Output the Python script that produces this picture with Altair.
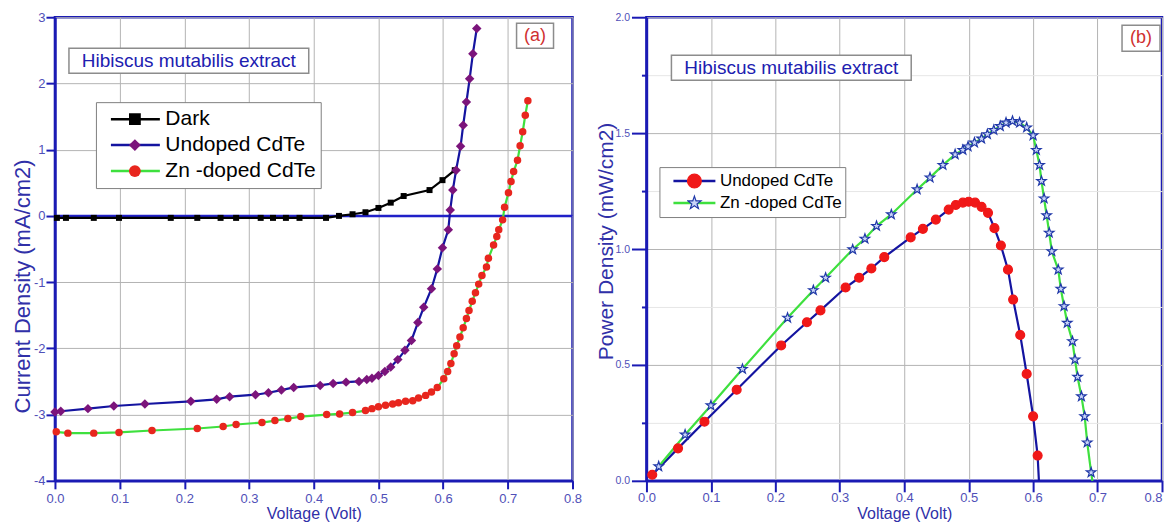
import altair as alt
import pandas as pd

# ---------------- panel (a): J-V curves ----------------
dark_v = [0.003, 0.017, 0.06, 0.099, 0.179, 0.22, 0.256, 0.28, 0.318, 0.337, 0.357,
          0.378, 0.419, 0.439, 0.46, 0.48, 0.50, 0.519, 0.539, 0.579, 0.599, 0.618]
dark_j = [-0.03, -0.03, -0.03, -0.03, -0.03, -0.03, -0.03, -0.03, -0.03, -0.03, -0.03,
          -0.03, -0.03, 0.0, 0.025, 0.055, 0.12, 0.20, 0.30, 0.39, 0.54, 0.69]

und_v = [0.0, 0.009, 0.051, 0.091, 0.139, 0.21, 0.25, 0.27, 0.31, 0.33,
         0.35, 0.369, 0.41, 0.43, 0.45, 0.47, 0.482, 0.49, 0.50, 0.51,
         0.519, 0.53, 0.541, 0.551, 0.561, 0.57, 0.582, 0.591, 0.599, 0.608,
         0.611, 0.615, 0.62, 0.627, 0.631, 0.636, 0.641, 0.646, 0.652]
und_j = [-2.96, -2.95, -2.91, -2.87, -2.84, -2.80, -2.77, -2.73, -2.70, -2.67,
         -2.63, -2.59, -2.56, -2.53, -2.51, -2.50, -2.47, -2.45, -2.41, -2.35,
         -2.28, -2.17, -2.03, -1.88, -1.61, -1.38, -1.10, -0.80, -0.48, -0.21,
         0.09, 0.39, 0.69, 1.05, 1.37, 1.72, 2.07, 2.45, 2.83]

zn_v = [0.002, 0.02, 0.06, 0.099, 0.15, 0.22, 0.26, 0.28, 0.32, 0.34,
        0.36, 0.38, 0.42, 0.44, 0.46, 0.48, 0.49, 0.50, 0.511, 0.522,
        0.531, 0.542, 0.553, 0.562, 0.573, 0.582, 0.591, 0.601, 0.607, 0.612,
        0.617, 0.621, 0.626, 0.631, 0.636, 0.64, 0.645, 0.65, 0.655, 0.66,
        0.667, 0.67, 0.678, 0.683, 0.686, 0.692, 0.695, 0.701, 0.705, 0.709,
        0.715, 0.719, 0.723, 0.727, 0.731]
zn_j = [-3.26, -3.28, -3.28, -3.27, -3.24, -3.21, -3.18, -3.15, -3.12, -3.09,
        -3.06, -3.03, -3.00, -2.99, -2.97, -2.94, -2.91, -2.88, -2.86, -2.84,
        -2.82, -2.80, -2.79, -2.75, -2.71, -2.66, -2.59, -2.46, -2.35, -2.23,
        -2.08, -1.96, -1.83, -1.69, -1.55, -1.43, -1.29, -1.16, -1.03, -0.90,
        -0.77, -0.64, -0.44, -0.31, -0.21, -0.06, 0.13, 0.35, 0.52, 0.67,
        0.84, 1.06, 1.27, 1.52, 1.74]

# ---------------- panel (b): P-V curves ----------------
up_v = [0.009, 0.049, 0.09, 0.14, 0.209, 0.249, 0.27, 0.309, 0.33, 0.349,
        0.369, 0.41, 0.429, 0.449, 0.469, 0.48, 0.491, 0.5, 0.51, 0.52,
        0.53, 0.54, 0.55, 0.561, 0.569, 0.58, 0.59, 0.60, 0.607, 0.609]
up_p = [0.026, 0.14, 0.255, 0.393, 0.584, 0.684, 0.735, 0.834, 0.876, 0.916,
        0.965, 1.05, 1.087, 1.127, 1.17, 1.19, 1.20, 1.204, 1.20, 1.182,
        1.156, 1.09, 1.015, 0.911, 0.782, 0.629, 0.461, 0.278, 0.109, 0.0]

zp_v = [0.019, 0.06, 0.10, 0.149, 0.219, 0.259, 0.278, 0.32, 0.339, 0.357,
        0.38, 0.42, 0.44, 0.46, 0.479, 0.491, 0.499, 0.509, 0.52, 0.529,
        0.539, 0.549, 0.558, 0.568, 0.579, 0.59, 0.60, 0.605, 0.61, 0.613,
        0.617, 0.621, 0.625, 0.629, 0.639, 0.643, 0.648, 0.653, 0.661, 0.665,
        0.669, 0.675, 0.68, 0.684, 0.69, 0.692]
zp_p = [0.062, 0.199, 0.325, 0.482, 0.703, 0.822, 0.876, 0.998, 1.044, 1.099,
        1.149, 1.257, 1.308, 1.362, 1.408, 1.427, 1.442, 1.459, 1.476, 1.495,
        1.513, 1.53, 1.545, 1.552, 1.545, 1.524, 1.49, 1.427, 1.362, 1.293,
        1.218, 1.145, 1.07, 0.99, 0.911, 0.828, 0.753, 0.681, 0.602, 0.523,
        0.448, 0.364, 0.278, 0.165, 0.036, 0.0]

series_a = ["Dark", "Undoped CdTe", "Zn -doped CdTe"]
series_b = ["Undoped CdTe", "Zn -doped CdTe"]

x_ticks = [0.0, 0.05, 0.1, 0.15, 0.2, 0.25, 0.3, 0.35, 0.4, 0.45, 0.5, 0.55,
           0.6, 0.65, 0.7, 0.75, 0.8]
ya_ticks = [-4.0, -3.5, -3.0, -2.5, -2.0, -1.5, -1.0, -0.5, 0.0, 0.5, 1.0, 1.5,
            2.0, 2.5, 3.0]
yb_ticks = [0.0, 0.25, 0.5, 0.75, 1.0, 1.25, 1.5, 1.75, 2.0]

annotation = "Hibiscus mutabilis extract"
panel_labels = ["(a)", "(b)"]
x_title = "Voltage (Volt)"
ya_title = "Current Density (mA/cm2)"
yb_title = "Power Density (mW/cm2)"

# ---------------- styles ----------------
FONT = "Liberation Sans"
BLUE = "#1a1ab4"
LABEL_C = "#5050b8"
TITLE_C = "#3030a8"
GRID_MAJ = "#b4b4b4"
GRID_MIN = "#e6e6e6"
LINE_BLUE = "#1414a0"
LINE_GREEN = "#3ee03e"
STAR = ("M0,-1L0.235,-0.324L0.951,-0.309L0.38,0.124L0.588,0.809L0,0.4"
        "L-0.588,0.809L-0.38,0.124L-0.951,-0.309L-0.235,-0.324Z")


def frame(vs, ys, name):
    n = len(vs)
    return pd.DataFrame({"V": vs, "Y": ys, "series": [name] * n,
                         "series_m": [name] * n, "idx": list(range(n))})


df_a = pd.concat([frame(dark_v, dark_j, series_a[0]),
                  frame(und_v, und_j, series_a[1]),
                  frame(zn_v, zn_j, series_a[2])], ignore_index=True)
df_b = pd.concat([frame(up_v, up_p, series_b[0]),
                  frame(zp_v, zp_p, series_b[1])], ignore_index=True)

MAJ_X = "abs(datum.value*10 - round(datum.value*10)) < 0.001"
MAJ_YA = "abs(datum.value - round(datum.value)) < 0.001"
MAJ_YB = "abs(datum.value*2 - round(datum.value*2)) < 0.001"


def cond(test, a, b):
    return {"condition": {"test": test, "value": a}, "value": b}


def x_axis(major_tick, pad, last_right):
    kw = {}
    if last_right:
        kw["labelAlign"] = cond("datum.value > 0.79", "right", "center")
    return alt.Axis(values=x_ticks, format=".1f",
                    labelExpr=f"({MAJ_X}) ? datum.label : ''",
                    tickSize=cond(MAJ_X, major_tick, 5),
                    gridColor=cond(MAJ_X, GRID_MAJ, GRID_MIN),
                    labelPadding=pad, labelFlush=False, labelOverlap=False,
                    titleFontSize=16, titleY=33, titleBaseline="middle", **kw)


ya_axis = alt.Axis(values=ya_ticks,
                   labelExpr=f"({MAJ_YA}) ? ('' + datum.value) : ''",
                   tickSize=cond(MAJ_YA, 9, 5),
                   gridColor=cond(MAJ_YA, GRID_MAJ, GRID_MIN),
                   labelPadding=1, labelFlush=False, labelOverlap=False,
                   titleFontSize=22, titleX=-32, titleY=269, titleBaseline="middle")

yb_axis = alt.Axis(values=yb_ticks, format=".1f",
                   labelExpr=f"({MAJ_YB}) ? datum.label : ''",
                   tickSize=cond(MAJ_YB, 15, 5),
                   gridColor=cond(MAJ_YB, GRID_MAJ, GRID_MIN),
                   labelPadding=2, labelFontSize=10.5, labelFlush=False, labelOverlap=False,
                   titleFontSize=21, titleX=-40, titleY=224, titleBaseline="middle")

WA, WB, H = 518, 516, 464


def annot(text, color, size, box, center):
    d = pd.DataFrame({"t": [text]})
    r = alt.Chart(d).mark_rect(fill="white", stroke="#8c8c8c", strokeWidth=1.5).encode(
        x=alt.value(box[0]), x2=alt.value(box[1]), y=alt.value(box[2]), y2=alt.value(box[3]))
    t = alt.Chart(d).mark_text(font=FONT, fontSize=size, color=color).encode(
        x=alt.value(center[0]), y=alt.value(center[1]), text="t:N")
    return [r, t]


# ---------------- panel (a) ----------------
xa = alt.X("V:Q", title=x_title, scale=alt.Scale(domain=[0, 0.8], nice=False, zero=False),
           axis=x_axis(8, 4, False))
ya = alt.Y("Y:Q", title=ya_title, scale=alt.Scale(domain=[-4, 3], nice=False, zero=False),
           axis=ya_axis)

leg_a_line = alt.Legend(orient="none", legendX=41, legendY=85, title=None,
                        symbolType="stroke", symbolSize=49 * 49, symbolStrokeWidth=2.5,
                        labelFont=FONT, labelFontSize=21, labelColor="black",
                        labelOffset=4, symbolOffset=9.5, padding=4, clipHeight=26,
                        rowPadding=0, strokeColor="#808080", fillColor="white")
leg_a_pts = alt.Legend(orient="none", legendX=70, legendY=85, title=None,
                       symbolSize=140, symbolStrokeWidth=0, labelExpr="''",
                       labelFontSize=1, padding=4, clipHeight=26, rowPadding=0)

fill_a = ["#000000", "#7b147b", "#e8261e"]
shape_a = ["square", "diamond", "circle"]
size_a = [36, 90, 56]

zero_rule = alt.Chart(pd.DataFrame({"Y": [0.0]})).mark_rule(
    color="#2020c8", strokeWidth=2.5).encode(y=alt.Y("Y:Q"))

lines_a = alt.Chart(df_a).mark_line(strokeWidth=2.2).encode(
    x=xa, y=ya,
    color=alt.Color("series:N", scale=alt.Scale(domain=series_a,
                    range=["#000000", LINE_BLUE, LINE_GREEN]), legend=leg_a_line),
    order="idx:Q")

pts_a = []
for i, name in enumerate(series_a):
    pts_a.append(alt.Chart(df_a).transform_filter(alt.datum.series == name).mark_point(
        filled=True, opacity=1, size=size_a[i], strokeWidth=0).encode(
        x="V:Q", y="Y:Q",
        fill=alt.Fill("series_m:N", scale=alt.Scale(range=fill_a), legend=leg_a_pts),
        shape=alt.Shape("series_m:N", scale=alt.Scale(range=shape_a), legend=leg_a_pts)))

left = alt.layer(zero_rule, lines_a, *pts_a,
                 *annot(annotation, "#2020b0", 19, (14, 254, 31, 56), (134, 43.5)),
                 *annot(panel_labels[0], "#d03030", 18, (462, 499, 6, 31), (480.5, 18.5))
                 ).properties(width=WA, height=H)

# ---------------- panel (b) ----------------
xb = alt.X("V:Q", title=x_title, scale=alt.Scale(domain=[0, 0.8], nice=False, zero=False),
           axis=x_axis(11, 0, True))
yb = alt.Y("Y:Q", title=yb_title, scale=alt.Scale(domain=[0, 2], nice=False, zero=False),
           axis=yb_axis)

leg_b_line = alt.Legend(orient="none", legendX=13, legendY=150, title=None,
                        symbolType="stroke", symbolSize=42 * 42, symbolStrokeWidth=2.5,
                        labelFont=FONT, labelFontSize=17, labelColor="black",
                        labelOffset=3, symbolOffset=9.5, padding=3, clipHeight=22,
                        rowPadding=0, strokeColor="#808080", fillColor="white")
leg_b_pts = alt.Legend(orient="none", legendX=37.5, legendY=150, title=None,
                       symbolSize=190, symbolStrokeWidth=1.2, labelExpr="''",
                       labelFontSize=1, padding=3, clipHeight=22, rowPadding=0)

fill_b = ["#f01818", "#c8d4f8"]
stroke_b = ["#f01818", "#2038a8"]
shape_b = ["circle", STAR]
size_b = [80, 100]

lines_b = alt.Chart(df_b).mark_line(strokeWidth=2.2).encode(
    x=xb, y=yb,
    color=alt.Color("series:N", scale=alt.Scale(domain=series_b,
                    range=[LINE_BLUE, LINE_GREEN]), legend=leg_b_line),
    order="idx:Q")

pts_b = []
for i, name in enumerate(series_b):
    pts_b.append(alt.Chart(df_b).transform_filter(
        (alt.datum.series == name) & (alt.datum.Y > 0.001)).mark_point(
        filled=True, opacity=1, size=size_b[i], strokeWidth=1.2).encode(
        x="V:Q", y="Y:Q",
        fill=alt.Fill("series_m:N", scale=alt.Scale(range=fill_b), legend=leg_b_pts),
        stroke=alt.Stroke("series_m:N", scale=alt.Scale(range=stroke_b), legend=leg_b_pts),
        shape=alt.Shape("series_m:N", scale=alt.Scale(range=shape_b), legend=leg_b_pts)))

right = alt.layer(lines_b, *pts_b,
                  *annot(annotation, "#2020b0", 19, (25, 265, 38, 63), (145, 50.5)),
                  *annot(panel_labels[1], "#d03030", 18, (476, 514, 8, 34), (495, 21))
                  ).properties(width=WB, height=H)

chart = alt.hconcat(left, right, spacing=10).resolve_scale(
    color="independent", fill="independent", shape="independent", stroke="independent"
).properties(
    padding={"left": 2, "top": 1, "right": 0, "bottom": 0}
).configure_view(stroke=BLUE, strokeWidth=2.5).configure_axis(
    labelFont=FONT, labelFontSize=13, labelColor=LABEL_C,
    titleFont=FONT, titleFontWeight="normal", titleColor=TITLE_C,
    domainColor=BLUE, domainWidth=2.5, tickColor=BLUE, tickWidth=2,
    gridWidth=1, gridOpacity=1)

chart.save("out.html", embed_options={"renderer": "svg", "actions": False})
